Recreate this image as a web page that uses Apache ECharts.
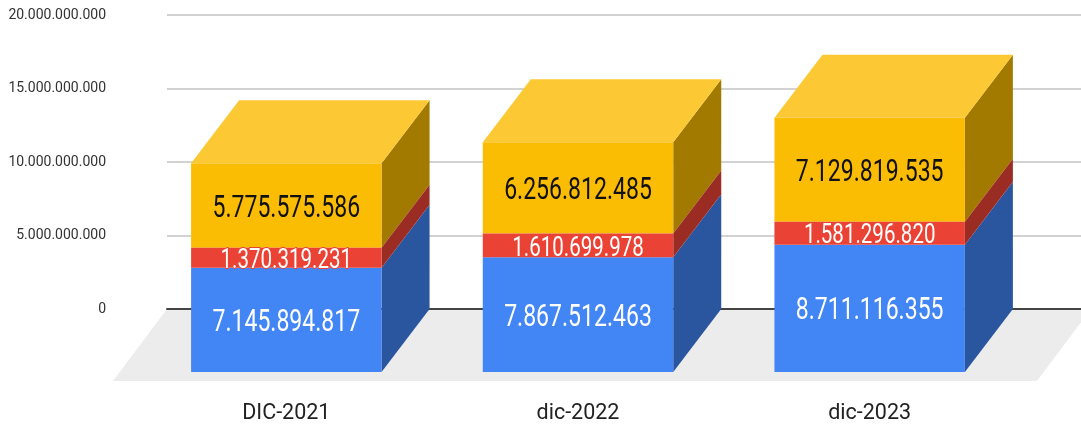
<!DOCTYPE html>
<html>
<head>
<meta charset="utf-8">
<title>Chart</title>
<style>
  html, body { margin: 0; padding: 0; background: #fff; }
  #chart { width: 1081px; height: 428px; }
</style>
<script src="https://cdn.jsdelivr.net/npm/echarts@6/dist/echarts.min.js"></script>
</head>
<body>
<div id="chart"></div>
<script>
const categories = ['DIC-2021', 'dic-2022', 'dic-2023'];
const blueValues = [7145894817, 7867512463, 8711116355];
const redValues = [1370319231, 1610699978, 1581296820];
const yellowValues = [5775575586, 6256812485, 7129819535];
const axisTicks = [0, 5000000000, 10000000000, 15000000000, 20000000000];

// depth of the box, front plane to back plane
const DEPTH_X = 48;
const DEPTH_Y = -63;

const formatNumber = v => String(v).replace(/\B(?=(\d{3})+(?!\d))/g, '.');

const makeBox = (colors, fontSize, textColor, withTop, halo) => (params, api) => {
  const idx = api.value(0);
  const low = api.coord([idx, api.value(1)]);
  const high = api.coord([idx, api.value(2)]);
  const w = api.size([1, 0])[0] * 0.653;
  const x0 = low[0] - w / 2;
  const x1 = low[0] + w / 2;
  const children = [
    {
      type: 'polygon',
      shape: { points: [[x1, low[1]], [x1 + DEPTH_X, low[1] + DEPTH_Y], [x1 + DEPTH_X, high[1] + DEPTH_Y], [x1, high[1]]] },
      style: { fill: colors.side }
    },
    {
      type: 'rect',
      shape: { x: x0, y: high[1], width: w, height: low[1] - high[1] },
      style: { fill: colors.front }
    }
  ];
  if (withTop) {
    children.push({
      type: 'polygon',
      shape: { points: [[x0, high[1]], [x1, high[1]], [x1 + DEPTH_X, high[1] + DEPTH_Y], [x0 + DEPTH_X, high[1] + DEPTH_Y]] },
      style: { fill: colors.top }
    });
  }
  children.push({
    type: 'text',
    x: low[0],
    y: (low[1] + high[1]) / 2 + 3,
    scaleX: 0.72,
    style: {
      text: formatNumber(api.value(3)),
      fontFamily: 'Roboto',
      fontSize: fontSize,
      fill: textColor,
      align: 'center',
      verticalAlign: 'middle',
      stroke: halo || 'transparent',
      lineWidth: halo ? 2 : 0
    }
  });
  return { type: 'group', children };
};

const renderFloor = (params, api) => {
  const cs = params.coordSys;
  const y = api.coord([0, 0])[1];
  const left = cs.x;
  const right = cs.x + cs.width + 10;
  return {
    type: 'polygon',
    shape: { points: [[left, y], [right, y], [right - 54, y + 72], [left - 54, y + 72]] },
    style: { fill: '#ececec' }
  };
};

const segment = (values, bases) => values.map((v, k) => [k, bases[k], bases[k] + v, v]);
const zeros = categories.map(() => 0);
const redBase = blueValues;
const yellowBase = blueValues.map((v, k) => v + redValues[k]);

const chart = echarts.init(document.getElementById('chart'));
chart.setOption({
  animation: false,
  grid: [
    { left: 167, right: 0, top: 15, bottom: 119, outerBoundsMode: 'none' },
    { left: 140.5, width: 875, top: 80, bottom: 56, outerBoundsMode: 'none' }
  ],
  xAxis: [
    {
      gridIndex: 0,
      type: 'category',
      data: categories,
      axisLabel: { show: false },
      axisTick: { show: false },
      axisLine: { lineStyle: { color: '#444', width: 2 } }
    },
    {
      gridIndex: 1,
      type: 'category',
      data: categories,
      axisLine: { show: false },
      axisTick: { show: false },
      axisLabel: {
        margin: 31,
        fontFamily: 'Roboto',
        fontSize: 21.5,
        color: '#222'
      }
    }
  ],
  yAxis: [
    {
      gridIndex: 0,
      type: 'value',
      min: axisTicks[0],
      max: axisTicks[axisTicks.length - 1],
      interval: axisTicks[1],
      axisLine: { show: false },
      axisTick: { show: false },
      splitLine: { lineStyle: { color: '#d2d2d2', width: 2 } },
      axisLabel: {
        margin: 61,
        fontFamily: 'Roboto',
        fontSize: 14,
        color: '#333',
        padding: [7, 0, 0, 0],
        formatter: v => formatNumber(v)
      }
    },
    {
      gridIndex: 1,
      type: 'value',
      min: axisTicks[0],
      max: axisTicks[axisTicks.length - 1],
      show: false
    }
  ],
  series: [
    {
      type: 'custom',
      z: -1,
      xAxisIndex: 0,
      yAxisIndex: 0,
      silent: true,
      data: [[0, 0]],
      renderItem: renderFloor
    },
    {
      type: 'custom',
      z: 3,
      xAxisIndex: 1,
      yAxisIndex: 1,
      data: segment(blueValues, zeros),
      renderItem: makeBox({ front: '#4285f4', side: '#2a56a0' }, 32, '#fff', false)
    },
    {
      type: 'custom',
      z: 3,
      xAxisIndex: 1,
      yAxisIndex: 1,
      data: segment(yellowValues, yellowBase),
      renderItem: makeBox({ front: '#fbbc04', side: '#a37a00', top: '#fcc934' }, 32, '#111', true)
    },
    {
      // red goes last, its labels are taller than the band
      type: 'custom',
      z: 4,
      xAxisIndex: 1,
      yAxisIndex: 1,
      data: segment(redValues, redBase),
      renderItem: makeBox({ front: '#ea4335', side: '#9b2c23' }, 28.5, '#fff', false, '#ea4335')
    }
  ]
});
</script>
</body>
</html>
